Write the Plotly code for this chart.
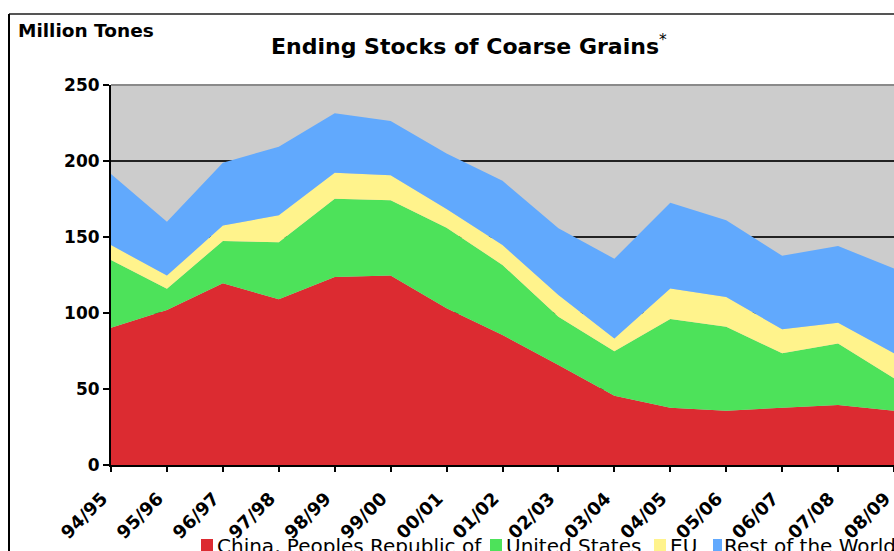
import plotly.graph_objects as go

years = ["94/95", "95/96", "96/97", "97/98", "98/99", "99/00", "00/01", "01/02",
         "02/03", "03/04", "04/05", "05/06", "06/07", "07/08", "08/09"]
china = [90.3, 102.0, 119.5, 109.0, 123.7, 124.6, 103.1, 85.5, 65.8, 45.5, 37.7, 35.7, 37.7, 39.5, 35.7]
united_states = [44.6, 14.0, 27.9, 37.5, 51.5, 49.5, 53.0, 46.1, 31.8, 29.3, 58.3, 55.3, 35.8, 40.5, 21.3]
eu = [9.8, 8.6, 10.1, 17.8, 17.1, 16.5, 12.3, 13.1, 14.2, 8.4, 20.2, 19.5, 15.8, 13.6, 16.5]
rest_of_world = [46.7, 35.4, 41.4, 45.1, 39.1, 35.7, 36.6, 42.3, 43.9, 52.5, 56.4, 50.5, 48.4, 50.5, 55.7]

series_names = ["China, Peoples Republic of", "United States", "EU", "Rest of the World"]
series_values = [china, united_states, eu, rest_of_world]
colors = ["#DC2B31", "#4DE25A", "#FFF38C", "#61A9FD"]

W, H = 894, 551
PL, PR, PT, PB = 111, 894, 85, 465          # plot area in window pixels
L, R, T, B = PL, W - PR, PT, H - PB
PW, PH = PR - PL, PB - PT


def px(x):
    return (x - PL) / PW


def py(y):
    return (PB - y) / PH


fig = go.Figure()
for name, vals, col in zip(series_names, series_values, colors):
    fig.add_trace(go.Scatter(
        x=years, y=vals, name=name, stackgroup="one", mode="lines",
        line=dict(width=0, color=col), fillcolor=col, showlegend=False,
        hoverinfo="skip",
    ))

font_b = "DejaVu Sans"
fig.update_layout(
    width=W, height=H,
    margin=dict(l=L, r=R, t=T, b=B, autoexpand=False),
    paper_bgcolor="white", plot_bgcolor="#CCCCCC",
    xaxis=dict(
        type="category", range=[0, len(years) - 1], showgrid=False,
        showline=True, linecolor="black", linewidth=2,
        ticks="outside", ticklen=5, tickcolor="black", tickwidth=1.5,
        tickmode="array", tickvals=years, ticktext=[y + "\u00a0\u00a0" for y in years],
        tickangle=-45, tickfont=dict(family=font_b, size=18, color="black", weight="bold"),
    ),
    yaxis=dict(
        range=[0, 250], dtick=50, showgrid=True, gridcolor="#222222", gridwidth=2,
        showline=True, linecolor="black", linewidth=2,
        ticks="outside", ticklen=6, tickcolor="black", tickwidth=1.5,
        tickfont=dict(family=font_b, size=17, color="black", weight="bold"),
        zeroline=False,
    ),
    font=dict(family=font_b, color="black"),
)

shapes = [
    dict(type="line", xref="paper", yref="paper", x0=0, x1=1.01, y0=1, y1=1,
         line=dict(color="#8A8A8A", width=2), layer="above"),
    dict(type="line", xref="paper", yref="paper", x0=px(9), x1=1.01, y0=py(14), y1=py(14),
         line=dict(color="#555555", width=2)),
    dict(type="line", xref="paper", yref="paper", x0=px(9), x1=px(9), y0=py(14), y1=py(560),
         line=dict(color="black", width=2)),
]

legend_sq = [(201, 213), (490, 502), (654, 666), (713, 722)]
legend_tx = [218, 507, 671, 725]
annotations = [
    dict(text="<b>Million Tones</b>", xref="paper", yref="paper", x=px(16), y=py(30),
         xanchor="left", yanchor="middle", showarrow=False,
         font=dict(family=font_b, size=18.5, color="black")),
    dict(text="<b>Ending Stocks of Coarse Grains</b><sup>*</sup>", xref="paper", yref="paper",
         x=px(469), y=py(45), xanchor="center", yanchor="middle", showarrow=False,
         font=dict(family=font_b, size=22, color="black")),
]
for (x0, x1), tx, name, col in zip(legend_sq, legend_tx, series_names, colors):
    shapes.append(dict(type="rect", xref="paper", yref="paper", x0=px(x0), x1=px(x1),
                       y0=py(539), y1=py(553), fillcolor=col, line=dict(width=0)))
    annotations.append(dict(text=name, xref="paper", yref="paper", x=px(tx - 3), y=py(546),
                            xanchor="left", yanchor="middle", showarrow=False,
                            font=dict(family=font_b, size=20, color="black")))

fig.update_layout(shapes=shapes, annotations=annotations)
fig.write_html(
    "out.html",
    config={"displayModeBar": False},
    post_script="document.body.style.margin='0';document.body.style.overflow='hidden';"
                "document.documentElement.style.overflow='hidden';",
)
